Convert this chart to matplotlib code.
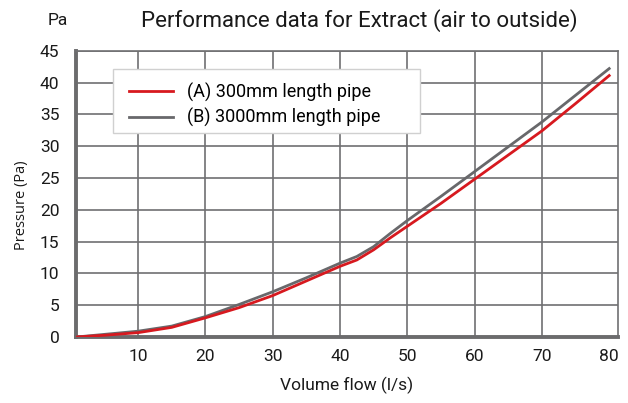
import matplotlib
matplotlib.use('Agg')
import matplotlib.pyplot as plt
from matplotlib.patches import Rectangle

# Volumenstrom (l/s) und Druck (Pa)
flow = [1, 5, 10, 15, 20, 25, 30, 35, 40, 42.5, 45, 47.5, 50, 55, 60, 65, 70, 75, 80]
pressure_a = [0, 0.26, 0.67, 1.5, 3.0, 4.6, 6.5, 8.8, 11.1, 12.1, 13.7, 15.6, 17.4,
              21.0, 24.8, 28.6, 32.4, 36.7, 41.1]
pressure_b = [0, 0.4, 0.9, 1.7, 3.2, 5.1, 7.1, 9.3, 11.6, 12.65, 14.2, 16.3, 18.3,
              22.1, 26.0, 29.9, 33.8, 38.0, 42.2]
labels = ['(A) 300mm length pipe', '(B) 3000mm length pipe']
x_ticks = [10, 20, 30, 40, 50, 60, 70, 80]
y_ticks = [0, 5, 10, 15, 20, 25, 30, 35, 40, 45]

plt.rcParams['font.family'] = ['Roboto', 'DejaVu Sans']

fig = plt.figure(figsize=(6.28, 4.03), dpi=100)
ax = fig.add_axes([0.121, 0.164, 0.863, 0.710])

grid_col = '#707072'
ax.plot(flow, pressure_a, color='#d7191f', lw=2.0, label=labels[0], zorder=3)
ax.plot(flow, pressure_b, color='#68686b', lw=2.0, label=labels[1], zorder=2)

ax.set_xlim(0.77, 81.3)
ax.set_ylim(0, 45)
ax.set_xticks(x_ticks)
ax.set_yticks(y_ticks)
ax.tick_params(length=0, labelsize=12.5, colors='#1a1a1a')
ax.tick_params(axis='x', pad=9)
ax.tick_params(axis='y', pad=12)

for x in [10, 20, 30, 40, 50, 60, 70]:
    ax.axvline(x, color=grid_col, lw=1.2, zorder=1)
for y in y_ticks[1:]:
    ax.axhline(y, color=grid_col, lw=1.2, zorder=1)

for side in ['left', 'bottom']:
    ax.spines[side].set_color('#6b6b6d')
    ax.spines[side].set_linewidth(2.8)
ax.spines['right'].set_color(grid_col)
ax.spines['right'].set_linewidth(1.2)
ax.spines['top'].set_color(grid_col)
ax.spines['top'].set_linewidth(1.2)

ax.set_xlabel('Volume flow (l/s)', fontsize=12.5, labelpad=9, color='#1a1a1a')
fig.text(0.035, 0.49, 'Pressure (Pa)', rotation=90, ha='center', va='center',
         fontsize=10.5, family=['Open Sans', 'DejaVu Sans'], color='#1a1a1a')
fig.text(0.092, 0.95, 'Pa', ha='center', va='center', fontsize=12.5, color='#1a1a1a')
fig.text(0.5725, 0.95, 'Performance data for Extract (air to outside)',
         ha='center', va='center', fontsize=16, color='#1a1a1a')

# Legendenrahmen separat, da er breiter als der Inhalt ist
ax.add_patch(Rectangle((0.068, 0.712), 0.566, 0.224, transform=ax.transAxes,
                       facecolor='white', edgecolor='#d0d0d0', lw=1.0, zorder=4))
leg = ax.legend(loc='upper left', bbox_to_anchor=(0.098, 0.888), fontsize=13,
                frameon=False, borderpad=0, borderaxespad=0,
                handlelength=2.45, handletextpad=0.75, labelspacing=0.35)
leg.set_zorder(5)

fig.savefig('out.png', dpi=100)
